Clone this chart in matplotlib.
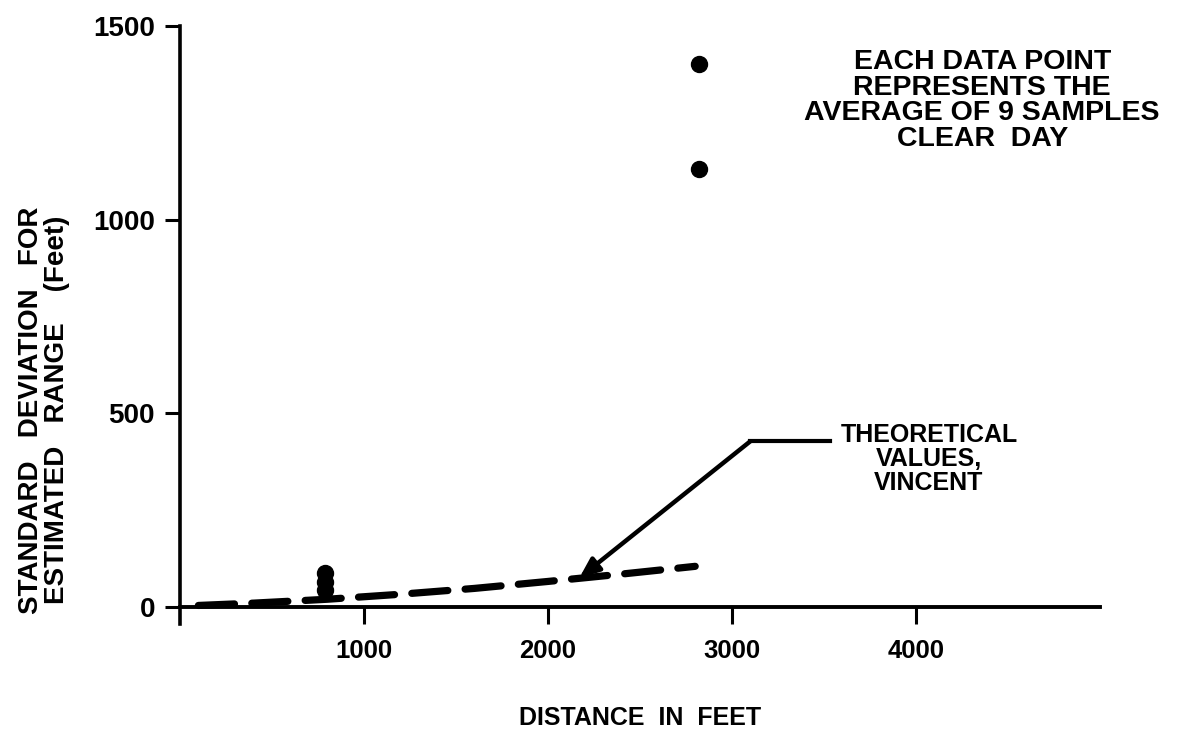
import matplotlib.pyplot as plt

# measured points (distance ft, std dev ft)
pt_dist = [790, 790, 790, 2820, 2820]
pt_std = [88, 64, 44, 1402, 1131]

# theoretical values, Vincent (dashed curve)
th_dist = [100, 400, 800, 1200, 1600, 2000, 2400, 2800]
th_std = [4, 10, 20, 33, 48, 66, 85, 105]

x_ticks = [1000, 2000, 3000, 4000]
y_ticks = [0, 500, 1000, 1500]

plt.rcParams["font.family"] = ["Liberation Sans", "DejaVu Sans"]
plt.rcParams["font.weight"] = "bold"

fig = plt.figure(figsize=(11.85, 7.31), dpi=100)
ax = fig.add_axes([180 / 1185, 124 / 731, 920 / 1185, 581 / 731])
ax.set_xlim(0, 5000)
ax.set_ylim(0, 1500)

for s in ["top", "right"]:
    ax.spines[s].set_visible(False)
ax.spines["left"].set_linewidth(2.6)
ax.spines["bottom"].set_linewidth(2.8)
ax.spines["left"].set_bounds(-45, 1500)

ax.set_xticks(x_ticks)
ax.set_yticks(y_ticks)
ax.tick_params(axis="x", direction="out", length=12, width=2.2, pad=11, labelsize=18.5)
ax.tick_params(axis="y", direction="out", length=11, width=2.2, pad=7, labelsize=20)
for lab in ax.get_xticklabels() + ax.get_yticklabels():
    lab.set_fontweight("bold")

ax.plot(th_dist, th_std, color="black", lw=5.2, dashes=(5, 2.4),
        solid_capstyle="round", dash_capstyle="round", clip_on=False)
ax.plot(pt_dist, pt_std, "o", color="black", markersize=11.5, clip_on=False)

# arrow to the theoretical curve
ax.plot([3530, 3100], [428, 428], color="black", lw=3, clip_on=False)
ax.annotate("", xy=(2170, 75), xytext=(3100, 428),
            arrowprops=dict(arrowstyle="-|>,head_length=1.2,head_width=0.5",
                            color="black", lw=3.2, shrinkA=0, shrinkB=0))

ax.text(4070, 475, "THEORETICAL\nVALUES,\nVINCENT", ha="center", va="top",
        fontsize=18, fontweight="bold", linespacing=1.0)
ax.text(4360, 1440, "EACH DATA POINT\nREPRESENTS THE\nAVERAGE OF 9 SAMPLES\nCLEAR  DAY",
        ha="center", va="top", fontsize=20.5, fontweight="bold", linespacing=0.98)

fig.text(640 / 1185, 1 - 718 / 731, "DISTANCE  IN  FEET", ha="center", va="center",
         fontsize=18, fontweight="bold")
fig.text(44 / 1185, 1 - 410 / 731, "STANDARD   DEVIATION   FOR\nESTIMATED   RANGE    (Feet)",
         rotation=90, ha="center", va="center", fontsize=20, fontweight="bold",
         linespacing=0.98)

fig.savefig("out.png", dpi=100)
